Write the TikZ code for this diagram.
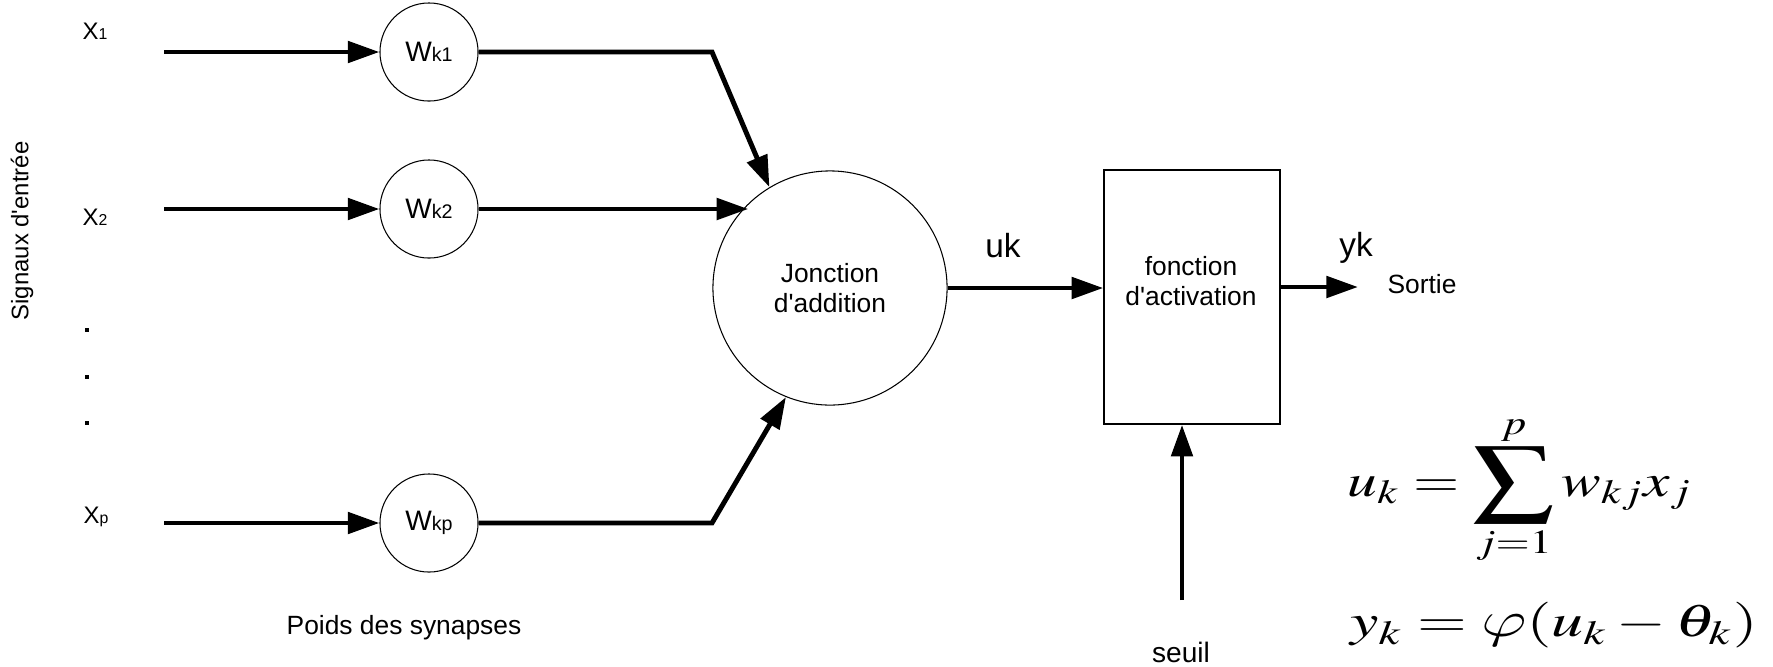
\documentclass[tikz,border=0pt]{standalone}
\usepackage{mathptmx}
\usepackage[no-math]{fontspec}
\setmainfont{Liberation Sans}
\usepackage{graphicx}
\usetikzlibrary{arrows.meta}

\DeclareSymbolFont{cmlettres}{OML}{cmm}{m}{it}
\DeclareMathSymbol{\curlyphi}{\mathord}{cmlettres}{"27}

\newcommand{\ix}[1]{{\fontsize{4.5}{5}\selectfont #1}}
\newcommand{\wx}[1]{{\fontsize{5.6}{6}\selectfont #1}}
\newcommand{\q}{\textquotesingle}
\newcommand{\bigsum}{\mathop{\vcenter{\hbox{\scalebox{1.35}{$\displaystyle\sum$}}}}\limits}
\newcommand{\bigphi}{\mathord{\scalebox{1.2}{$\curlyphi$}}}

\begin{document}
\begin{tikzpicture}[x=0.01cm, y=-0.01cm,
  sig/.style={line width=1.4pt, -{Triangle[length=9pt,width=6pt]}},
  weight/.style={circle, draw, line width=0.3pt, minimum size=0.98cm, inner sep=0pt, font=\fontsize{8}{9}\selectfont},
  summer/.style={circle, draw, line width=0.3pt, minimum size=2.34cm, inner sep=0pt, align=center, font=\fontsize{7.5}{8.6}\selectfont},
  actbox/.style={draw, line width=0.4pt, minimum width=1.76cm, minimum height=2.54cm, inner sep=0pt},
  txt/.style={inner sep=0pt, font=\fontsize{7.5}{8.6}\selectfont},
  inlbl/.style={inner sep=0pt, font=\fontsize{6.8}{8}\selectfont},
  siglbl/.style={inner sep=0pt, font=\fontsize{9.5}{11}\selectfont},
  eqn/.style={inner sep=0pt, font=\fontsize{13}{15}\selectfont}]

\useasboundingbox (0,0) rectangle (1773,666);

% entrees
\node[inlbl] (x1) at (95,31) {X\ix{1}};
\node[inlbl] (x2) at (95,217) {X\ix{2}};
\node[inlbl] (xp) at (96,517) {X\ix{p}};
\foreach \y in {330,377,423}{
  \fill (85,\y-2) rectangle ++(4,4);
}
\node[inlbl, rotate=90] (titre) at (22,231) {Signaux d\q entrée};

\coordinate (in1) at (164,52);
\coordinate (in2) at (164,209);
\coordinate (ip) at (164,523);

% poids
\node[weight] (w1) at (429,52) {W\wx{k1}};
\node[weight] (w2) at (429,209) {W\wx{k2}};
\node[weight] (wp) at (429,523) {W\wx{kp}};
\node[txt] (poids) at (404,628) {Poids des synapses};

% addition et activation
\node[summer] (sum) at (830,288) {Jonction\\d\q addition};
\node[actbox] (act) at (1192,297) {};
\node[txt, align=center] (actl) at (1191,281) {fonction\\d\q activation};

\coordinate (b1) at (712,52);
\coordinate (bp) at (712,523);
\coordinate (out) at (1358,287);
\coordinate (thr) at (1182,600);

\draw[sig] (in1) -- (w1);
\draw[sig] (in2) -- (w2);
\draw[sig] (ip) -- (wp);
\draw[sig] (w1) -- (b1) -- (sum.121);
\draw[sig] (w2) -- (w2 -| sum.134);
\draw[sig] (wp) -- (bp) -- (sum.248);
\draw[sig] (sum) -- (sum -| act.west);
\draw[sig] (act.east |- out) -- (out);
\draw[sig] (thr) -- (thr |- act.south);

\node[siglbl] (uk) at (1003,246) {uk};
\node[siglbl] (yk) at (1356,248) {yk};
\node[txt] (sortie) at (1422,284) {Sortie};
\node[txt, font=\fontsize{8}{9}\selectfont] (seuil) at (1181,652) {seuil};

% formules
\node[eqn] (f1) at (1520,490) {\scalebox{1.3}[1]{$u_k = \bigsum_{j=1}^{p} w_{kj} x_j$}};
\node[eqn] (f2) at (1554,625) {\scalebox{1.4}[1]{$y_k = \bigphi(u_k - \theta_k)$}};

\end{tikzpicture}
\end{document}
